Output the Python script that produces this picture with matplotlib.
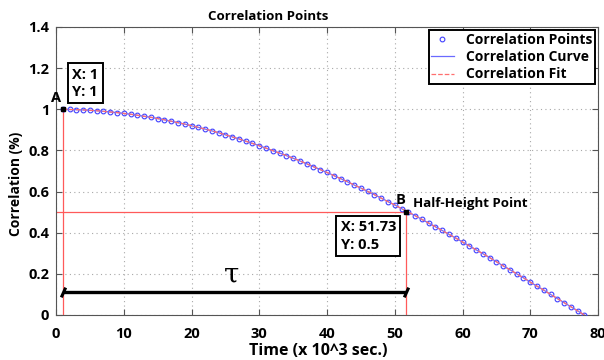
import matplotlib
matplotlib.use("Agg")
import matplotlib.pyplot as plt
from matplotlib.path import Path

# Data
time_x = list(range(1, 79))
corr_y = [1.000, 0.999, 0.998, 0.997, 0.995, 0.993, 0.990, 0.987, 0.984, 0.980,
          0.976, 0.971, 0.966, 0.961, 0.955, 0.949, 0.942, 0.935, 0.928, 0.920,
          0.912, 0.904, 0.895, 0.886, 0.876, 0.866, 0.856, 0.845, 0.834, 0.823,
          0.811, 0.799, 0.787, 0.775, 0.762, 0.749, 0.735, 0.721, 0.707, 0.693,
          0.678, 0.663, 0.648, 0.632, 0.617, 0.601, 0.585, 0.568, 0.551, 0.535,
          0.517, 0.500, 0.483, 0.465, 0.447, 0.429, 0.411, 0.392, 0.374, 0.355,
          0.336, 0.317, 0.298, 0.279, 0.259, 0.239, 0.220, 0.200, 0.181, 0.160,
          0.140, 0.121, 0.100, 0.080, 0.060, 0.040, 0.020, 0.000]
point_a = (1, 1)
point_b = (51.73, 0.5)
tau_y = 0.11
x_ticks = [0, 10, 20, 30, 40, 50, 60, 70, 80]
y_ticks = [0, 0.2, 0.4, 0.6, 0.8, 1.0, 1.2, 1.4]
y_tick_labels = ["0", "0.2", "0.4", "0.6", "0.8", "1", "1.2", "1.4"]

plt.rcParams['font.family'] = ['Open Sans', 'DejaVu Sans']
plt.rcParams['font.weight'] = 'bold'

W, H = 604, 360
fig = plt.figure(figsize=(W / 100, H / 100), dpi=100)
ax = fig.add_axes([56 / W, 1 - 315 / H, 542 / W, 288 / H])

red = '#ff5a5a'
# reference lines
ax.plot([point_a[0], point_a[0]], [0, point_a[1]], color=red, lw=0.9, zorder=2)
ax.plot([0, point_b[0]], [point_b[1], point_b[1]], color=red, lw=0.9, zorder=2)
ax.plot([point_b[0], point_b[0]], [0, point_b[1]], color=red, lw=0.9, zorder=2)

ax.plot(time_x, corr_y, 'o', ms=3.4, mfc='none', mec='#4040ff', mew=0.8,
        label='Correlation Points', zorder=3)
ax.plot(time_x, corr_y, '-', color='#6a6aff', lw=0.9, label='Correlation Curve', zorder=3)
ax.plot(time_x, corr_y, '--', color='#ff6f6f', lw=0.9, label='Correlation Fit', zorder=4)

# data tips
ax.plot(*point_a, 's', color='black', ms=3.5, zorder=6)
ax.plot(*point_b, 's', color='black', ms=3.5, zorder=6)
ax.text(point_a[0] - 0.3, point_a[1] + 0.02, 'A', fontsize=10.5, fontweight='bold',
        ha='right', va='bottom')
ax.text(point_b[0] - 0.9, point_b[1] + 0.025, 'B', fontsize=10.5, fontweight='bold',
        ha='center', va='bottom')
ax.text(point_b[0] + 1.0, point_b[1] + 0.04, 'Half-Height Point', fontsize=9.5,
        fontweight='bold', ha='left', va='center')
box = dict(boxstyle='square,pad=0.3', fc='white', ec='black', lw=1.4)
ax.text(2.4, 1.05, 'X: 1\nY: 1', fontsize=10.5, fontweight='bold', ha='left',
        va='bottom', bbox=box, linespacing=1.3, zorder=7)
ax.text(42.0, 0.46, 'X: 51.73\nY: 0.5', fontsize=10.5, fontweight='bold', ha='left',
        va='top', bbox=box, linespacing=1.3, zorder=7)

# tau span
ax.plot([point_a[0], point_b[0]], [tau_y, tau_y], color='black', lw=2.4,
        solid_capstyle='butt', zorder=7)
flick = Path([(-0.45, -1.0), (0.45, 1.0)], [Path.MOVETO, Path.LINETO])
ax.plot([point_a[0], point_b[0]], [tau_y, tau_y], ls='none', marker=flick, ms=7,
        mec='black', mew=2.2, zorder=7)
ax.text(25.9, 0.195, 'τ', fontsize=20, ha='center', va='center',
        family=['DejaVu Serif'], fontweight='normal')

ax.set_xlim(0, 80)
ax.set_ylim(0, 1.4)
ax.set_xticks(x_ticks)
ax.set_yticks(y_ticks)
ax.set_yticklabels(y_tick_labels)
ax.tick_params(direction='in', top=True, right=True, labelsize=10.5, length=4,
               width=0.8, colors='#555555', labelcolor='black')
ax.tick_params(axis='x', pad=9)
ax.tick_params(axis='y', pad=5)
for lbl in ax.get_xticklabels() + ax.get_yticklabels():
    lbl.set_fontweight('bold')
ax.grid(True, linestyle=(0, (1, 3)), color='#a8a8a8', lw=0.8)
for s in ax.spines.values():
    s.set_color('#555555')
    s.set_linewidth(0.8)

fig.text(268 / W, 1 - 17 / H, 'Correlation Points', fontsize=9.5, fontweight='bold',
         ha='center', va='center')
fig.text(318 / W, 1 - 351 / H, 'Time (x 10^3 sec.)', fontsize=11.5, fontweight='bold',
         ha='center', va='center')
fig.text(16 / W, 1 - 184 / H, 'Correlation (%)', fontsize=10, fontweight='bold',
         ha='center', va='center', rotation=90)

leg = ax.legend(loc='upper right', fontsize=10, frameon=True, fancybox=False,
                edgecolor='black', framealpha=1, borderpad=0.2, labelspacing=0.25,
                handlelength=1.6, handletextpad=0.9, borderaxespad=0.2)
leg.get_frame().set_linewidth(1.4)
for t in leg.get_texts():
    t.set_fontweight('bold')

fig.savefig('out.png', dpi=100)
